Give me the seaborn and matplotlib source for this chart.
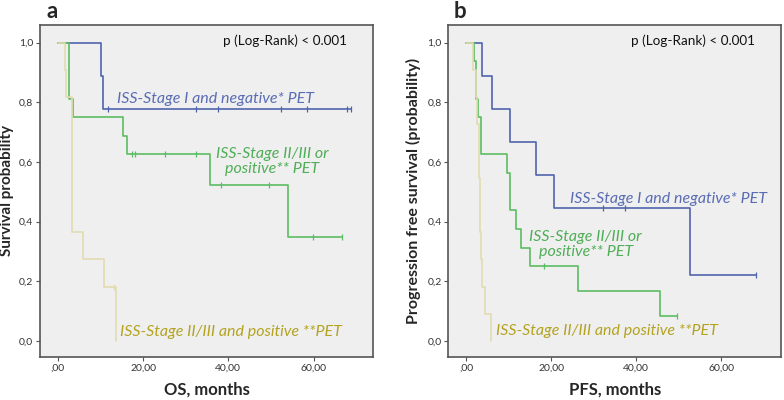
import numpy as np
import matplotlib
matplotlib.use("Agg")
import matplotlib.pyplot as plt
import seaborn as sns

sns.set_style("white", {"axes.facecolor": "#efefef"})
plt.rcParams['font.family'] = ['Lato', 'DejaVu Sans']

# OS curves (event times, survival after each step, censor times)
os_blue_t = [10.1, 10.6]
os_blue_s = [0.889, 0.778]
os_blue_cens = [11.7, 32.4, 37.5, 52.4, 58.4, 67.9, 68.9]

os_green_t = [2.5, 2.65, 3.6, 15.2, 16.2, 35.8, 54.1]
os_green_s = [0.875, 0.8125, 0.75, 0.6875, 0.625, 0.521, 0.347]
os_green_cens = [17.5, 18.2, 25.2, 32.4, 38.4, 49.5, 59.9, 66.7]

os_tan_t = [1.6, 2.0, 3.4, 5.8, 10.9, 13.6]
os_tan_s = [0.909, 0.818, 0.364, 0.273, 0.182, 0.0]
os_tan_cens = [13.1]

# PFS curves
pfs_blue_t = [3.6, 6.0, 10.3, 16.5, 20.6, 52.7]
pfs_blue_s = [0.889, 0.778, 0.667, 0.556, 0.444, 0.222]
pfs_blue_cens = [32.1, 37.4, 68.2]

pfs_green_t = [1.7, 2.2, 2.8, 3.4, 9.5, 10.2, 11.6, 12.8, 14.9, 26.2, 45.6]
pfs_green_s = [0.9375, 0.8125, 0.75, 0.625, 0.5625, 0.4375, 0.375, 0.3125, 0.25, 0.1667, 0.0833]
pfs_green_cens = [18.2, 49.5]

pfs_tan_t = [1.5, 2.2, 2.6, 2.9, 3.1, 3.2, 3.3, 3.5, 3.8, 4.3, 5.9]
pfs_tan_s = [0.909, 0.818, 0.727, 0.636, 0.545, 0.455, 0.364, 0.273, 0.182, 0.091, 0.0]
pfs_tan_cens = []

x_ticks = [0, 20, 40, 60]
x_ticklabels = [',00', '20,00', '40,00', '60,00']
y_ticks = [0, 0.2, 0.4, 0.6, 0.8, 1.0]
y_ticklabels = ['0,0', '0,2', '0,4', '0,6', '0,8', '1,0']

blue = '#5064ad'
green = '#5cbd62'
tan = '#e2dbb0'
blue_txt = '#5a6cb4'
green_txt = '#4fae57'
tan_txt = '#b3a321'


def km(ax, t, s, cens, color, z):
    x = [0] + list(t)
    y = [1.0] + list(s)
    end = max(list(t) + list(cens))
    if end > x[-1]:
        x.append(end)
        y.append(y[-1])
    sns.lineplot(x=x, y=y, drawstyle='steps-post', color=color, lw=1.2,
                 ax=ax, zorder=z, estimator=None)
    if cens:
        cy = [y[np.searchsorted(x, c, side='right') - 1] for c in cens]
        sns.scatterplot(x=cens, y=cy, marker='|', s=22, color=color,
                        linewidth=0.9, ax=ax, zorder=z)


fig = plt.figure(figsize=(7.84, 4.0), dpi=100)
ax1 = fig.add_axes([0.051, 0.1075, 0.425, 0.83])
ax2 = fig.add_axes([0.572, 0.1075, 0.424, 0.83])

km(ax1, os_blue_t, os_blue_s, os_blue_cens, blue, 2)
km(ax1, os_green_t, os_green_s, os_green_cens, green, 3)
km(ax1, os_tan_t, os_tan_s, os_tan_cens, tan, 4)

km(ax2, pfs_blue_t, pfs_blue_s, pfs_blue_cens, blue, 2)
km(ax2, pfs_green_t, pfs_green_s, pfs_green_cens, green, 3)
km(ax2, pfs_tan_t, pfs_tan_s, pfs_tan_cens, tan, 4)

for ax in (ax1, ax2):
    ax.set_xlim(-4.2, 74)
    ax.set_ylim(-0.054, 1.059)
    ax.set_xticks(x_ticks)
    ax.set_xticklabels(x_ticklabels)
    ax.set_yticks(y_ticks)
    ax.set_yticklabels(y_ticklabels)
    ax.tick_params(axis='both', labelsize=7.5, labelcolor='#333333',
                   length=3, width=0.8, color='#555555', direction='out',
                   bottom=True, left=True, pad=2)
    for sp in ax.spines.values():
        sp.set_color('#555555')
        sp.set_linewidth(1.2)
    ax.text(38.7, 1.006, 'p (Log-Rank) < 0.001', fontsize=9.7, color='#111111',
            va='center', ha='left')

ax1.set_xlabel('OS, months', fontsize=12, fontweight='bold', labelpad=6)
ax1.set_ylabel('Survival probability', fontsize=11, fontweight='bold')
ax1.yaxis.set_label_coords(-0.077, 0.5)
ax2.set_xlabel('PFS, months', fontsize=12, fontweight='bold', labelpad=6)
ax2.set_ylabel('Progression free survival (probability)', fontsize=11.5,
               fontweight='bold')
ax2.yaxis.set_label_coords(-0.083, 0.5)

lab = dict(fontsize=11.5, style='italic', va='center')
ax1.text(13.8, 0.81, 'ISS-Stage I and negative* PET', color=blue_txt, ha='left', **lab)
ax1.text(50.3, 0.602, 'ISS-Stage II/III or\npositive** PET', color=green_txt,
         ha='center', linespacing=1.1, **lab)
ax1.text(14.5, 0.031, 'ISS-Stage II/III and positive **PET', color=tan_txt, ha='left', **lab)

ax2.text(24.4, 0.475, 'ISS-Stage I and negative* PET', color=blue_txt, ha='left', **lab)
ax2.text(28.1, 0.323, 'ISS-Stage II/III or\npositive** PET', color=green_txt,
         ha='center', linespacing=1.1, **lab)
ax2.text(6.9, 0.033, 'ISS-Stage II/III and positive **PET', color=tan_txt, ha='left', **lab)

fig.text(52 / 784, 1 - 11 / 400, 'a', fontsize=16, fontweight='bold', ha='center', va='center')
fig.text(460 / 784, 1 - 11 / 400, 'b', fontsize=16, fontweight='bold', ha='center', va='center')

fig.savefig('out.png', dpi=100, facecolor='white')
